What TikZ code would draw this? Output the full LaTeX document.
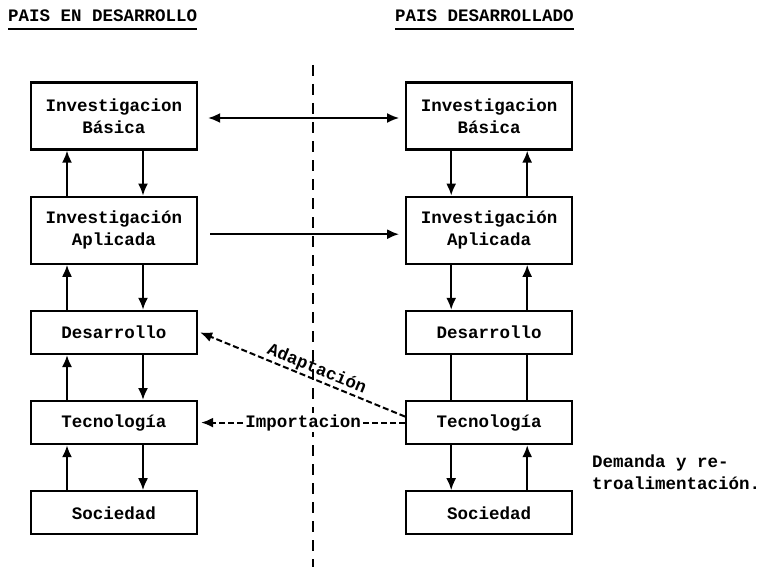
\documentclass[tikz,border=0pt]{standalone}
\usepackage{fontspec}
\setmonofont{Liberation Mono}
\usepackage{tikz}
\usetikzlibrary{arrows.meta,positioning}

\begin{document}
\begin{tikzpicture}[
  font=\ttfamily\bfseries\fontsize{17.5}{21.5}\selectfont,
  box/.style={draw, line width=2.2pt, minimum width=166pt, minimum height=43pt, align=center, inner sep=2pt},
  tallbox/.style={box, minimum height=67pt},
  arr/.style={-{Latex[length=12pt, width=10pt]}, line width=2pt},
  twoarr/.style={{Latex[length=12pt, width=10pt]}-{Latex[length=12pt, width=10pt]}, line width=2pt},
  dasharr/.style={arr, dash pattern=on 6pt off 3pt},
  plain/.style={line width=2pt},
  divider/.style={line width=2pt, dash pattern=on 11pt off 8pt},
  head/.style={anchor=base west, inner sep=0pt}
]
\useasboundingbox (0,0) rectangle (770pt,-567pt);

% titles
\node[head] (hdl) at (8pt,-22pt) {PAIS EN DESARROLLO};
\node[head] (hdr) at (395pt,-22pt) {PAIS DESARROLLADO};
\draw[line width=1.6pt] ([yshift=-7pt]hdl.base west) -- ([yshift=-7pt]hdl.base east);
\draw[line width=1.6pt] ([yshift=-7pt]hdr.base west) -- ([yshift=-7pt]hdr.base east);

% pais en desarrollo
\node[tallbox] (lbas) at (114pt,-116pt) {Investigacion\\Básica};
\node[tallbox, below=45pt of lbas] (lapl) {Investigación\\Aplicada};
\node[box, below=45pt of lapl] (ldes) {Desarrollo};
\node[box, below=45pt of ldes] (ltec) {Tecnología};
\node[box, below=45pt of ltec] (lsoc) {Sociedad};

% pais desarrollado
\node[tallbox, right=207pt of lbas] (rbas) {Investigacion\\Básica};
\node[tallbox, below=45pt of rbas] (rapl) {Investigación\\Aplicada};
\node[box, below=45pt of rapl] (rdes) {Desarrollo};
\node[box, below=45pt of rdes] (rtec) {Tecnología};
\node[box, below=45pt of rtec] (rsoc) {Sociedad};

\node[align=left, anchor=north west, inner sep=0pt] (dem) at (592pt,-455pt) {Demanda y re-\\troalimentación.};

% frontera
\coordinate (ftop) at (313pt,-65pt);
\coordinate (fbot) at (313pt,-567pt);
\draw[divider] (ftop) -- (fbot);

% flechas verticales, izquierda
\foreach \a/\b in {lapl/lbas, ldes/lapl, ltec/ldes, lsoc/ltec} {
  \draw[arr] ([xshift=-47pt]\a.north) -- ([xshift=-47pt]\b.south);
  \draw[arr] ([xshift=29pt]\b.south) -- ([xshift=29pt]\a.north);
}
% flechas verticales, derecha
\foreach \a/\b in {rbas/rapl, rapl/rdes, rtec/rsoc} {
  \draw[arr] ([xshift=-38pt]\a.south) -- ([xshift=-38pt]\b.north);
  \draw[arr] ([xshift=38pt]\b.north) -- ([xshift=38pt]\a.south);
}
\draw[plain] ([xshift=-38pt]rdes.south) -- ([xshift=-38pt]rtec.north);
\draw[plain] ([xshift=38pt]rtec.north) -- ([xshift=38pt]rdes.south);

% entre paises
\draw[twoarr] ([xshift=10pt, yshift=-2pt]lbas.east) -- ([xshift=-6pt, yshift=-2pt]rbas.west);
\draw[arr] ([xshift=12pt, yshift=-4pt]lapl.east) -- ([xshift=-6pt, yshift=-4pt]rapl.west);
\draw[dasharr] ([yshift=6pt]rtec.west) -- node[sloped, above=0pt, pos=0.45, inner sep=1pt] (adap) {Adaptación} ([xshift=2pt]ldes.east);
\draw[dasharr] (rtec.west) -- node[fill=white, inner sep=1pt] (imp) {Importacion} ([xshift=3pt]ltec.east);
\end{tikzpicture}
\end{document}
